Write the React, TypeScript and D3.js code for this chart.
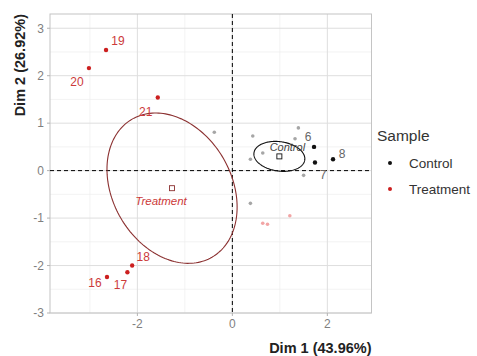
import React from "react";
import * as d3 from "d3";

// Individuals projected on the first two dimensions
const controlIds = ["6", "7", "8"];
const controlX = [1.72, 1.74, 2.12];
const controlY = [0.5, 0.17, 0.24];

const controlOtherX = [1.39, 1.32, 0.64, 0.43, 0.38, 1.5, -0.38, 0.38];
const controlOtherY = [0.9, 0.67, 0.37, 0.73, 0.24, -0.1, 0.81, -0.69];

const treatmentIds = ["16", "17", "18", "19", "20", "21"];
const treatmentX = [-2.64, -2.21, -2.11, -2.66, -3.02, -1.57];
const treatmentY = [-2.24, -2.14, -2.0, 2.54, 2.16, 1.54];

const treatmentOtherX = [1.21, 0.64, 0.74];
const treatmentOtherY = [-0.95, -1.11, -1.13];

// Group means and concentration ellipses: [cx, cy, semi-major, semi-minor, angle (deg)]
const groupNames = ["Control", "Treatment"];
const groupCenterX = [0.99, -1.27];
const groupCenterY = [0.3, -0.37];
const ellipseA = [0.54, 1.68];
const ellipseB = [0.31, 1.25];
const ellipseAngle = [-8, -60];

const xMajor = [-2, 0, 2];
const xMinor = [-3, -1, 1];
const yMajor = [-3, -2, -1, 0, 1, 2, 3];
const yMinor = [-2.5, -1.5, -0.5, 0.5, 1.5, 2.5];

const xTitle = "Dim 1 (43.96%)";
const yTitle = "Dim 2 (26.92%)";
const legendTitle = "Sample";

const FONT = "'Liberation Sans', Arial, sans-serif";
const W = 477;
const H = 356;
const P = { left: 50, right: 371.5, top: 14, bottom: 313 };

const COL_CTRL = "#111111";
const COL_TRT = "#cc1f1f";
const COL_TRT_TEXT = "#cc3a3a";
const COL_TRT_ELL = "#8b3030";
const COL_GREY_PT = "#a6a6a6";
const COL_PINK_PT = "#f2a5a5";

// label offsets in pixels, relative to each point
const ctrlLabelOffset = [
  [-6, -10],
  [8, 12],
  [9, -6],
];
const trtLabelOffset = [
  [-12, 6],
  [-7, 13],
  [11, -9],
  [12, -9],
  [-12, 14],
  [-12, 14],
];
const meanLabelOffset = [
  [8, -9],
  [-11, 13],
];

export default function App() {
  const x = d3.scaleLinear().domain([-3.84, 2.93]).range([P.left, P.right]);
  const y = d3.scaleLinear().domain([-3, 3.3]).range([P.bottom, P.top]);

  const ellipsePath = (i: number) => {
    const th = (ellipseAngle[i] * Math.PI) / 180;
    const pts: [number, number][] = d3.range(0, 2 * Math.PI + 0.001, Math.PI / 90).map((t) => {
      const ex = ellipseA[i] * Math.cos(t);
      const ey = ellipseB[i] * Math.sin(t);
      return [
        groupCenterX[i] + ex * Math.cos(th) - ey * Math.sin(th),
        groupCenterY[i] + ex * Math.sin(th) + ey * Math.cos(th),
      ];
    });
    return d3
      .line<[number, number]>()
      .x((d) => x(d[0]))
      .y((d) => y(d[1]))(pts) as string;
  };

  const tickCol = "#7f7f7f";

  return (
    <svg
      width={W}
      height={H}
      style={{ position: "absolute", left: 0, top: 0, background: "#fff" }}
      fontFamily={FONT}
    >
      <rect x={0} y={0} width={W} height={H} fill="#fff" />
      {/* grid */}
      {xMinor.map((v) => (
        <line key={"xm" + v} x1={x(v)} x2={x(v)} y1={P.top} y2={P.bottom} stroke="#eeeeee" strokeWidth={0.7} />
      ))}
      {yMinor.map((v) => (
        <line key={"ym" + v} x1={P.left} x2={P.right} y1={y(v)} y2={y(v)} stroke="#eeeeee" strokeWidth={0.7} />
      ))}
      {xMajor.map((v) => (
        <line key={"xM" + v} x1={x(v)} x2={x(v)} y1={P.top} y2={P.bottom} stroke="#dedede" strokeWidth={1} />
      ))}
      {yMajor.map((v) => (
        <line key={"yM" + v} x1={P.left} x2={P.right} y1={y(v)} y2={y(v)} stroke="#dedede" strokeWidth={1} />
      ))}
      <rect
        x={P.left}
        y={P.top}
        width={P.right - P.left}
        height={P.bottom - P.top}
        fill="none"
        stroke="#c4c4c4"
        strokeWidth={1}
      />

      {/* reference lines */}
      <line x1={x(0)} x2={x(0)} y1={P.top} y2={P.bottom} stroke="#000" strokeWidth={1} strokeDasharray="4,3" />
      <line x1={P.left} x2={P.right} y1={y(0)} y2={y(0)} stroke="#000" strokeWidth={1} strokeDasharray="4,3" />

      {/* ticks and labels */}
      {xMajor.map((v) => (
        <g key={"xt" + v}>
          <line x1={x(v)} x2={x(v)} y1={P.bottom} y2={P.bottom + 3} stroke="#b3b3b3" />
          <text x={x(v)} y={P.bottom + 15} textAnchor="middle" fontSize={12} fill={tickCol}>
            {v}
          </text>
        </g>
      ))}
      {yMajor.map((v) => (
        <g key={"yt" + v}>
          <line x1={P.left - 3} x2={P.left} y1={y(v)} y2={y(v)} stroke="#b3b3b3" />
          <text x={P.left - 6} y={y(v) + 4.3} textAnchor="end" fontSize={12} fill={tickCol}>
            {v}
          </text>
        </g>
      ))}

      {/* ellipses */}
      <path d={ellipsePath(1)} fill="none" stroke={COL_TRT_ELL} strokeWidth={1.1} />
      <path d={ellipsePath(0)} fill="none" stroke={COL_CTRL} strokeWidth={1.1} />

      {/* other individuals */}
      {controlOtherX.map((v, i) => (
        <circle key={"co" + i} cx={x(v)} cy={y(controlOtherY[i])} r={1.8} fill={COL_GREY_PT} />
      ))}
      {treatmentOtherX.map((v, i) => (
        <circle key={"to" + i} cx={x(v)} cy={y(treatmentOtherY[i])} r={1.8} fill={COL_PINK_PT} />
      ))}

      {/* labelled individuals */}
      {controlX.map((v, i) => (
        <g key={"c" + i}>
          <circle cx={x(v)} cy={y(controlY[i])} r={2.2} fill={COL_CTRL} />
          <text
            x={x(v) + ctrlLabelOffset[i][0]}
            y={y(controlY[i]) + ctrlLabelOffset[i][1] + 4.3}
            textAnchor="middle"
            fontSize={12}
            fill="#666"
          >
            {controlIds[i]}
          </text>
        </g>
      ))}
      {treatmentX.map((v, i) => (
        <g key={"t" + i}>
          <circle cx={x(v)} cy={y(treatmentY[i])} r={2.2} fill={COL_TRT} />
          <text
            x={x(v) + trtLabelOffset[i][0]}
            y={y(treatmentY[i]) + trtLabelOffset[i][1] + 4.3}
            textAnchor="middle"
            fontSize={12}
            fill={COL_TRT_TEXT}
          >
            {treatmentIds[i]}
          </text>
        </g>
      ))}

      {/* group means */}
      {groupNames.map((g, i) => (
        <g key={"m" + g}>
          <rect
            x={x(groupCenterX[i]) - 2.5}
            y={y(groupCenterY[i]) - 2.5}
            width={5}
            height={5}
            fill="none"
            stroke={i === 0 ? COL_CTRL : COL_TRT_ELL}
            strokeWidth={0.9}
          />
          <text
            x={x(groupCenterX[i]) + meanLabelOffset[i][0]}
            y={y(groupCenterY[i]) + meanLabelOffset[i][1] + 4}
            textAnchor="middle"
            fontSize={i === 0 ? 11 : 11.5}
            fontStyle="italic"
            fill={i === 0 ? "#444" : COL_TRT_TEXT}
          >
            {g}
          </text>
        </g>
      ))}

      {/* axis titles */}
      <text x={P.right} y={353} textAnchor="end" fontSize={14.5} fontWeight="bold" fill="#222">
        {xTitle}
      </text>
      <text
        transform={`translate(25, ${P.top}) rotate(-90)`}
        textAnchor="end"
        fontSize={14.5}
        fontWeight="bold"
        fill="#222"
      >
        {yTitle}
      </text>

      {/* legend */}
      <text x={377} y={140.5} fontSize={15.5} fill="#333">
        {legendTitle}
      </text>
      {groupNames.map((g, i) => (
        <g key={"lg" + g}>
          <circle cx={390} cy={163 + i * 26} r={2} fill={i === 0 ? COL_CTRL : COL_TRT} />
          <text x={409} y={168 + i * 26} fontSize={13.5} fill="#333">
            {g}
          </text>
        </g>
      ))}
    </svg>
  );
}
